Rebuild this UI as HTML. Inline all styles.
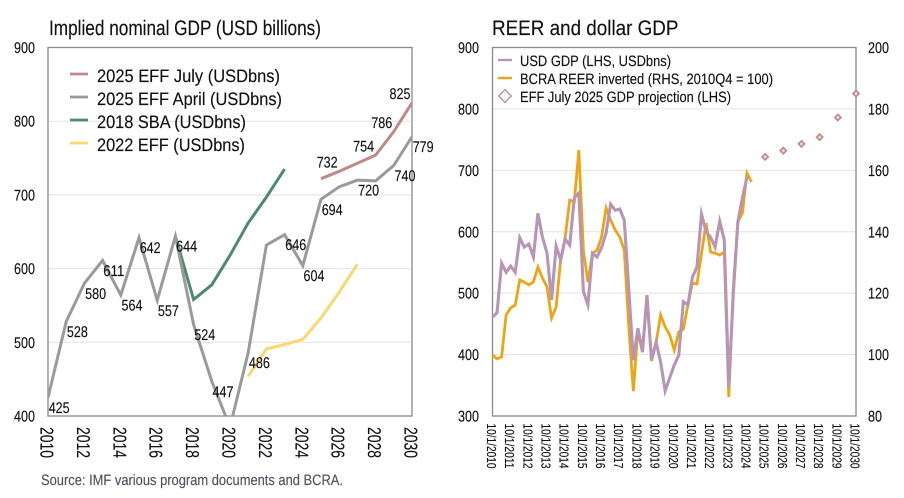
<!DOCTYPE html>
<html lang="en">
<head>
<meta charset="utf-8">
<title>Implied nominal GDP and REER</title>
<style>
html,body{margin:0;padding:0;background:#fff;width:904px;height:498px;overflow:hidden}
svg{display:block;filter:blur(0.3px)}
text{font-family:"Liberation Sans",Arial,sans-serif;fill:#111;stroke:#111;stroke-width:0.15px;text-rendering:geometricPrecision}
</style>
</head>
<body>
<svg id="chart" xmlns="http://www.w3.org/2000/svg" width="904" height="498" viewBox="0 0 904 498">
<defs><clipPath id="left-clip"><rect x="48" y="47.5" width="364" height="368.5"></rect></clipPath></defs>
</svg>
<script>
// ---- Left chart data ----
const gdpYears = [2010,2011,2012,2013,2014,2015,2016,2017,2018,2019,2020,2021,2022,2023,2024,2025,2026,2027,2028,2029,2030];
const july2025 = [null,null,null,null,null,null,null,null,null,null,null,null,null,null,null,722,732,743,754,786,825];
const april2025 = [425,528,580,611,564,642,557,644,524,447,385,486,632,646,604,694,711,720,719,740,779];
const sba2018 = [null,null,null,null,null,null,null,644,558,578,618,662,697,735,null,null,null,null,null,null,null];
const eff2022 = [null,null,null,null,null,null,null,null,null,null,null,454,491,497,504,533,568,606,null,null,null];
const aprilLabelYears = [2010,2011,2012,2013,2014,2015,2016,2017,2018,2019,2021,2023,2024,2025,2027,2029,2030];
const julyLabelYears = [2026,2028,2029,2030];
const leftYTicks = [400,500,600,700,800,900];
const leftXTicks = [2010,2012,2014,2016,2018,2020,2022,2024,2026,2028,2030];

// ---- Right chart data (quarterly from 10/1/2010) ----
const usdGdp = [461,468,549,534,544,534,590,575,580,559,630,591,565,489,577,554,588,578,655,663,503,481,565,559,574,598,645,635,637,619,505,391,443,404,497,391,420,388,341,362,383,399,486,481,526,543,629,600,591,575,617,587,347,500,616,655,689];
const reerInverted = [99.9,98.6,99.2,112.9,115.2,116.1,124.3,123.6,122.7,123.6,128.5,124.9,122,111.9,115.5,130.8,138.3,150.3,149.7,166.6,134,123.6,133,134,138.3,147.7,143.8,140.6,138.3,134,109,88.1,108,100.8,118.7,97.9,103.8,112.9,109,106.4,101.5,107.4,108.3,116.1,123.3,123,133,142.8,133.4,133,132.4,133.4,86.2,122,143.2,146.1,159.1,156.2];
const projectionYears = [2025,2026,2027,2028,2029,2030];
const projectionGdp = [722,732,743,754,786,825];
const rightLhsTicks = [300,400,500,600,700,800,900];
const rightRhsTicks = [80,100,120,140,160,180,200];
const rightXTicks = [2010,2011,2012,2013,2014,2015,2016,2017,2018,2019,2020,2021,2022,2023,2024,2025,2026,2027,2028,2029,2030];

const NS = 'http://www.w3.org/2000/svg';
const svg = document.getElementById('chart');
const top_ = 47.5, bottom = 416;

// axis functions
const xL = y => 48 + (y - 2010) * (412 - 48) / 20;
const yL = v => bottom - (v - 400) * (bottom - top_) / 500;
const xR = y => 492.5 + (y - 2010.75) * (856 - 492.5) / 20;
const xQ = i => 492.5 + i * (856 - 492.5) / 80;
const yLhs = v => bottom - (v - 300) * (bottom - top_) / 600;
const yRhs = v => bottom - (v - 80) * (bottom - top_) / 120;

function make(tag, attrs, name) {
  const el = document.createElementNS(NS, tag);
  for (const k in attrs) el.setAttribute(k, attrs[k]);
  
  
  svg.appendChild(el);
  return el;
}
function label(str, x, y, size, width, name, opts) {
  const o = opts || {};
  const attrs = {x: x, y: y, 'font-size': size, textLength: width, lengthAdjust: 'spacingAndGlyphs'};
  if (o.rotate) attrs.transform = 'rotate(90 ' + x + ' ' + y + ')';
  if (o.fill) attrs.style = 'fill:' + o.fill + ';stroke:' + o.fill;
  const el = make('text', attrs, name);
  el.textContent = str;
  return el;
}
function polyline(values, xf, yf, color, width, name, clip) {
  const pts = [];
  values.forEach((v, i) => { if (v !== null) pts.push(xf(i).toFixed(2) + ',' + yf(v).toFixed(2)); });
  const attrs = {points: pts.join(' '), fill: 'none', stroke: color, 'stroke-width': width, 'stroke-linejoin': 'miter', 'stroke-miterlimit': 6};
  if (clip) attrs['clip-path'] = 'url(#left-clip)';
  return make('polyline', attrs, name);
}

// ---- Titles ----
label('Implied nominal GDP (USD billions)', 49, 35, 21, 272, 'left-chart-title');
label('REER and dollar GDP', 492, 35, 21, 186.5, 'right-chart-title');
label('Source: IMF various program documents and BCRA.', 41, 485, 15, 302, 'source-note', {fill: '#4d5262'});

// ---- Left chart ----
leftYTicks.forEach(t => {
  if (t !== 400 && t !== 900) make('line', {x1: 48, x2: 412, y1: yL(t), y2: yL(t), stroke: '#e2e2e2', 'stroke-width': 1}, 'left-gridline');
  label(String(t), 14, yL(t) + 5.5, 15.5, 21, 'left-y-tick-label');
});
make('rect', {x: 48, y: top_, width: 364, height: bottom - top_, fill: 'none', stroke: '#8a8a8a', 'stroke-width': 1.3}, 'left-plot-frame');
leftXTicks.forEach(t => {
  label(String(t), xL(t) - 7.5, 427, 18.5, 31, 'left-x-tick-label', {rotate: true});
});
const xIdx = i => xL(gdpYears[i]);
polyline(sba2018, xIdx, yL, '#4f8a6f', 3, 'series-2018-sba', true);
polyline(april2025, xIdx, yL, '#9a9a9a', 3, 'series-2025-eff-april', true);
polyline(eff2022, xIdx, yL, '#f9d870', 3, 'series-2022-eff', true);
polyline(july2025, xIdx, yL, '#bd8a8a', 3, 'series-2025-eff-july', true);

aprilLabelYears.forEach(y => {
  const v = april2025[gdpYears.indexOf(y)];
  label(String(v), xL(y) + 0.7, yL(v) + 15.5, 15.5, 21, 'april-data-label');
});
julyLabelYears.forEach(y => {
  const v = july2025[gdpYears.indexOf(y)];
  label(String(v), xL(y) - 22.5, yL(v) - 3.6, 15.5, 21, 'july-data-label');
});

// left legend
[['2025 EFF July (USDbns)', '#bd8a8a', 74, 82, 183, 'legend-2025-eff-july'],
 ['2025 EFF April (USDbns)', '#9a9a9a', 97, 105, 185, 'legend-2025-eff-april'],
 ['2018 SBA (USDbns)', '#4f8a6f', 120, 128, 149, 'legend-2018-sba'],
 ['2022 EFF (USDbns)', '#f9d870', 143, 151, 148, 'legend-2022-eff']].forEach(e => {
  make('line', {x1: 70, x2: 88, y1: e[2], y2: e[2], stroke: e[1], 'stroke-width': 2.7}, e[5] + '-swatch');
  label(e[0], 97, e[3], 18, e[4], e[5]);
});

// ---- Right chart ----
rightLhsTicks.forEach(t => {
  if (t !== 300 && t !== 900) make('line', {x1: 492.5, x2: 856, y1: yLhs(t), y2: yLhs(t), stroke: '#e2e2e2', 'stroke-width': 1}, 'right-gridline');
  label(String(t), 458, yLhs(t) + 5.5, 15.5, 21, 'right-lhs-tick-label');
});
rightRhsTicks.forEach(t => {
  const w = t < 100 ? 14 : 21;
  label(String(t), 868, yRhs(t) + 5.5, 15.5, w, 'right-rhs-tick-label');
});
make('rect', {x: 492.5, y: top_, width: 363.5, height: bottom - top_, fill: 'none', stroke: '#8a8a8a', 'stroke-width': 1.3}, 'right-plot-frame');
rightXTicks.forEach(t => {
  label('10/1/' + t, xR(t + 0.75) - 5.5, 423.5, 13, 45, 'right-x-tick-label', {rotate: true});
});
polyline(reerInverted, xQ, yRhs, '#eda515', 2.8, 'series-bcra-reer-inverted');
polyline(usdGdp, xQ, yLhs, '#b795b5', 3.1, 'series-usd-gdp');
projectionYears.forEach((y, i) => {
  const cx = xR(y + 0.75), cy = yLhs(projectionGdp[i]);
  make('rect', {x: cx - 2.2, y: cy - 2.2, width: 4.4, height: 4.4, fill: '#e9d5d5', stroke: '#bd8a8a', 'stroke-width': 1.6, transform: 'rotate(45 ' + cx + ' ' + cy + ')'}, 'projection-marker');
});

// right legend
make('line', {x1: 498, x2: 512, y1: 60, y2: 60, stroke: '#b795b5', 'stroke-width': 2.4}, 'legend-usd-gdp-swatch');
label('USD GDP (LHS, USDbns)', 520, 66, 15, 151, 'legend-usd-gdp');
make('line', {x1: 498, x2: 512, y1: 78, y2: 78, stroke: '#eda515', 'stroke-width': 2.4}, 'legend-reer-swatch');
label('BCRA REER inverted (RHS, 2010Q4 = 100)', 520, 84, 15, 253, 'legend-reer');
make('rect', {x: 500.5, y: 91.5, width: 9, height: 9, fill: '#fff', stroke: '#bd8a8a', 'stroke-width': 1.3, transform: 'rotate(45 505 96)'}, 'legend-projection-swatch');
label('EFF July 2025 GDP projection (LHS)', 520, 102, 15, 211, 'legend-projection');
</script>
</body>
</html>
